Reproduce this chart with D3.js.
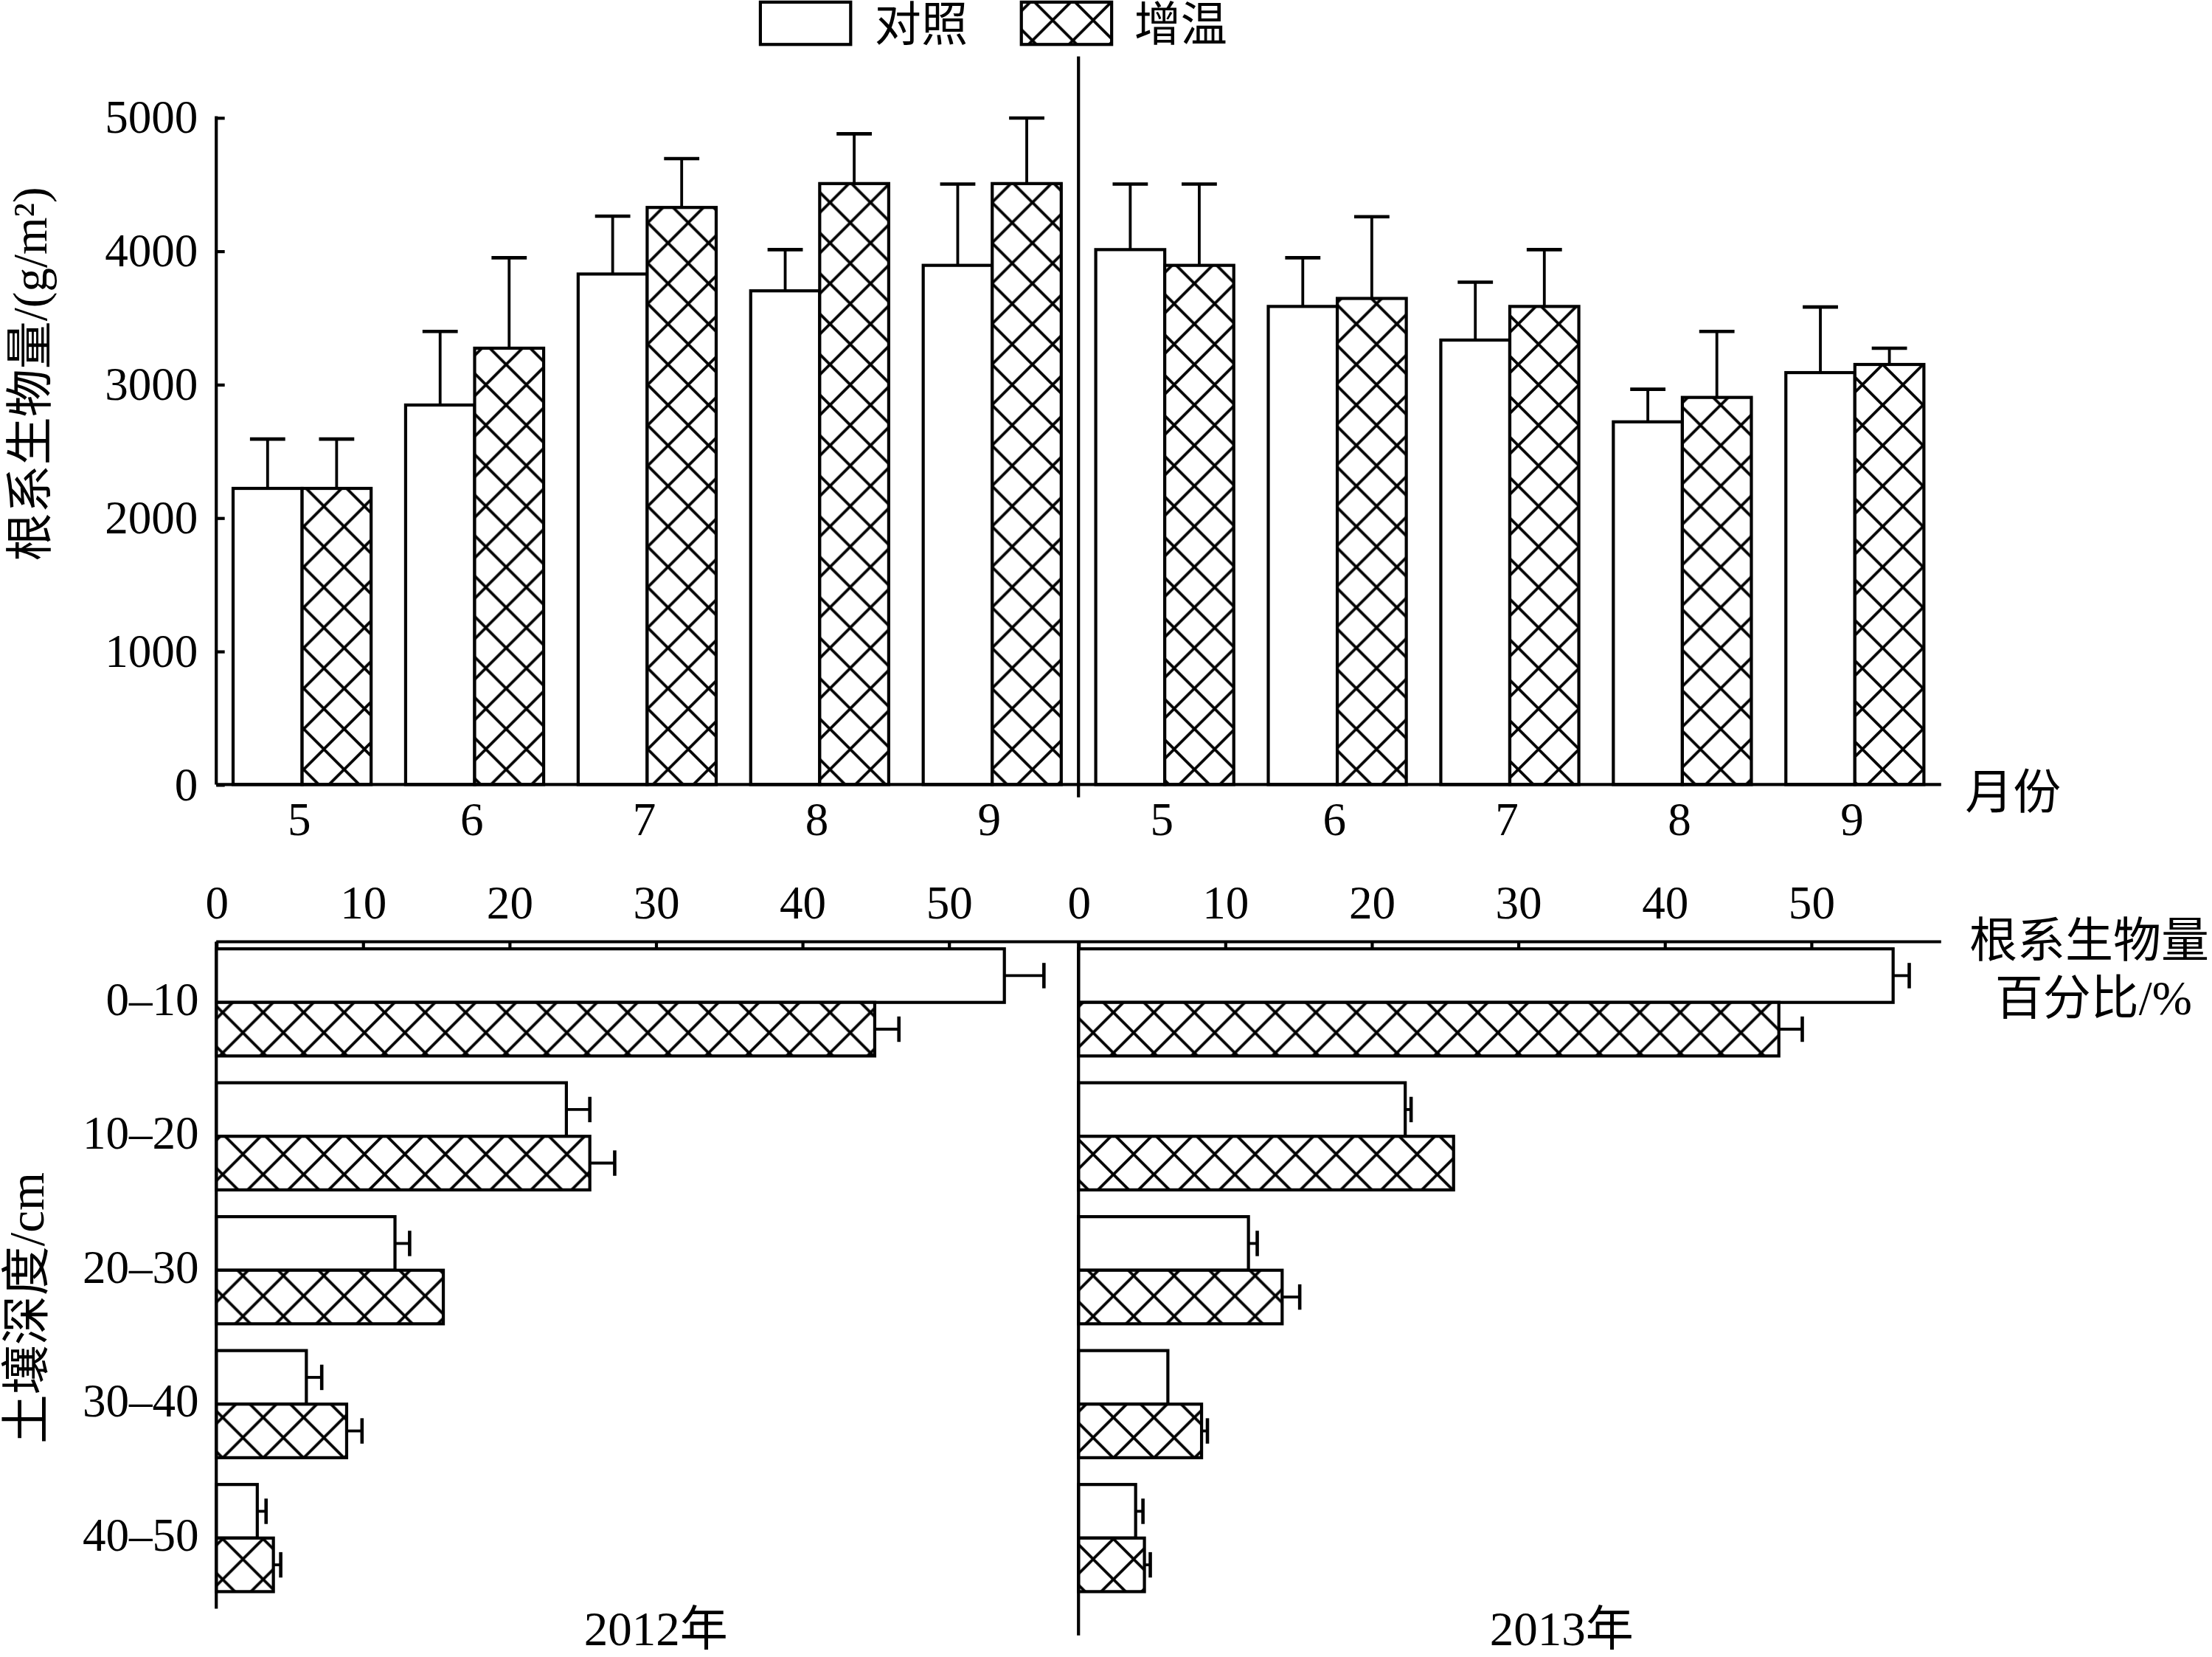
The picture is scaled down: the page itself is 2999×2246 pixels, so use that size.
<!DOCTYPE html>
<html>
<head>
<meta charset="utf-8">
<script src="https://cdnjs.cloudflare.com/ajax/libs/d3/7.8.5/d3.min.js"></script>
<style>
  html, body { margin: 0; padding: 0; background: #fff; }
  svg { display: block; }
  text { font-family: "Liberation Serif", "Noto Sans CJK SC", serif; fill: #000; }
</style>
</head>
<body>
<svg id="chart" width="2999" height="2246" viewBox="0 0 1568 1174.3"></svg>
<script>
// ---- data ----
var months = ["5", "6", "7", "8", "9"];
var years = ["2012", "2013"];
var seriesNames = ["对照", "增温"];

// root biomass g/m2 and error (upper bar length)
var ctrl2012 = [2220, 2845, 3827, 3701, 3892];
var ctrlErr2012 = [370, 552, 434, 309, 609];
var warm2012 = [2220, 3271, 4326, 4505, 4505];
var warmErr2012 = [370, 678, 366, 373, 491];
var ctrl2013 = [4010, 3584, 3332, 2719, 3088];
var ctrlErr2013 = [491, 365, 434, 244, 492];
var warm2013 = [3892, 3644, 3584, 2902, 3149];
var warmErr2013 = [609, 613, 426, 495, 122];
var biomassTicks = [0, 1000, 2000, 3000, 4000, 5000];

// percentage of root biomass per soil layer
var depths = ["0–10", "10–20", "20–30", "30–40", "40–50"];
var ctrlPct2012 = [53.8, 23.9, 12.2, 6.15, 2.8];
var ctrlPctErr2012 = [2.7, 1.6, 1.0, 1.05, 0.6];
var warmPct2012 = [44.95, 25.5, 15.5, 8.9, 3.9];
var warmPctErr2012 = [1.65, 1.7, 0, 1.05, 0.5];
var ctrlPct2013 = [55.6, 22.3, 11.6, 6.1, 3.9];
var ctrlPctErr2013 = [1.1, 0.4, 0.6, 0, 0.5];
var warmPct2013 = [47.8, 25.6, 13.9, 8.4, 4.5];
var warmPctErr2013 = [1.6, 0, 1.2, 0.4, 0.4];
var pctTicks = [0, 10, 20, 30, 40, 50];

var svg = d3.select("#chart");
var lw = 2.2;

// cross hatch pattern
var defs = svg.append("defs");
var pat = defs.append("pattern")
    .attr("id", "hatch")
    .attr("patternUnits", "userSpaceOnUse")
    .attr("width", 28.7)
    .attr("height", 28.7);
pat.append("rect").attr("width", 28.7).attr("height", 28.7).attr("fill", "#fff");
pat.append("path")
    .attr("d", "M0,14.35L14.35,0L28.7,14.35L14.35,28.7Z")
    .attr("fill", "none")
    .attr("stroke", "#000")
    .attr("stroke-width", 2)
    .attr("stroke-linecap", "square");

function fillFor(i) { return i === 0 ? "#fff" : "url(#hatch)"; }

// ================= top chart =================
var topBase = 556, topY0 = 83.3;
var y = d3.scaleLinear().domain([0, 5000]).range([topBase, topY0]);

var groups = [];
years.forEach(function(yr) {
    months.forEach(function(m) { groups.push(yr + "-" + m); });
});
var x0 = d3.scaleBand().domain(groups).range([153, 1376]).paddingInner(0.2).paddingOuter(0.1);
var x1 = d3.scaleBand().domain([0, 1]).range([0, x0.bandwidth()]);

var topRows = [];
var ctrlTop = ctrl2012.concat(ctrl2013), ctrlTopErr = ctrlErr2012.concat(ctrlErr2013);
var warmTop = warm2012.concat(warm2013), warmTopErr = warmErr2012.concat(warmErr2013);
groups.forEach(function(g, i) {
    topRows.push({g: g, s: 0, v: ctrlTop[i], e: ctrlTopErr[i]});
    topRows.push({g: g, s: 1, v: warmTop[i], e: warmTopErr[i]});
});

var topBars = svg.append("g");
topBars.selectAll("line.err")
    .data(topRows).enter().append("line")
    .attr("x1", function(d) { return x0(d.g) + x1(d.s) + x1.bandwidth() / 2; })
    .attr("x2", function(d) { return x0(d.g) + x1(d.s) + x1.bandwidth() / 2; })
    .attr("y1", function(d) { return y(d.v); })
    .attr("y2", function(d) { return y(d.v + d.e); })
    .attr("stroke", "#000").attr("stroke-width", 2);
topBars.selectAll("line.cap")
    .data(topRows).enter().append("line")
    .attr("x1", function(d) { return x0(d.g) + x1(d.s) + x1.bandwidth() / 2 - 12.5; })
    .attr("x2", function(d) { return x0(d.g) + x1(d.s) + x1.bandwidth() / 2 + 12.5; })
    .attr("y1", function(d) { return y(d.v + d.e); })
    .attr("y2", function(d) { return y(d.v + d.e); })
    .attr("stroke", "#000").attr("stroke-width", 2.4);
topBars.selectAll("rect")
    .data(topRows).enter().append("rect")
    .attr("x", function(d) { return x0(d.g) + x1(d.s); })
    .attr("y", function(d) { return y(d.v); })
    .attr("width", x1.bandwidth())
    .attr("height", function(d) { return topBase - y(d.v); })
    .attr("fill", function(d) { return fillFor(d.s); })
    .attr("stroke", "#000").attr("stroke-width", lw);

// y axis
var yAxis = svg.append("g")
    .attr("transform", "translate(153.3,0)")
    .call(d3.axisLeft(y).tickValues(biomassTicks).tickFormat(d3.format("d")).tickSize(-6).tickPadding(13));
yAxis.select(".domain").remove();
yAxis.selectAll(".tick line").attr("stroke-width", lw);
yAxis.selectAll("text").attr("font-size", 33).attr("font-family", "Liberation Serif");

svg.append("line").attr("x1", 153.3).attr("x2", 153.3).attr("y1", topY0 - 1).attr("y2", topBase)
    .attr("stroke", "#000").attr("stroke-width", lw);
svg.append("line").attr("x1", 153.3).attr("x2", 1376).attr("y1", topBase).attr("y2", topBase)
    .attr("stroke", "#000").attr("stroke-width", lw);

// month labels
svg.append("g").selectAll("text")
    .data(groups).enter().append("text")
    .attr("x", function(d) { return x0(d) + x0.bandwidth() / 2 - 2; })
    .attr("y", 592)
    .attr("text-anchor", "middle")
    .attr("font-size", 33)
    .text(function(d) { return d.split("-")[1]; });

svg.append("text").attr("x", 1393).attr("y", 573).attr("font-size", 34).text("月份");

// divider between years
var divX = (x0("2012-9") + x0.bandwidth() + x0("2013-5")) / 2;
svg.append("line").attr("x1", divX).attr("x2", divX).attr("y1", 40).attr("y2", 565)
    .attr("stroke", "#000").attr("stroke-width", lw);

svg.append("text")
    .attr("transform", "translate(33,265) rotate(-90)")
    .attr("text-anchor", "middle")
    .attr("font-size", 34)
    .text("根系生物量/(g/m²)");

// legend
var legend = svg.append("g");
legend.append("rect").attr("x", 539).attr("y", 1.5).attr("width", 64).attr("height", 30)
    .attr("fill", "#fff").attr("stroke", "#000").attr("stroke-width", lw);
legend.append("text").attr("x", 620).attr("y", 29).attr("font-size", 33).text(seriesNames[0]);
legend.append("rect").attr("x", 724).attr("y", 1.5).attr("width", 64).attr("height", 30)
    .attr("fill", "url(#hatch)").attr("stroke", "#000").attr("stroke-width", lw);
legend.append("text").attr("x", 804).attr("y", 29).attr("font-size", 33).text(seriesNames[1]);

// ================= bottom chart =================
var axisY = 667.4;
var yd = d3.scaleBand().domain(depths).range([axisY, 1133]).paddingInner(0.2).paddingOuter(0.053);
var yd1 = d3.scaleBand().domain([0, 1]).range([0, yd.bandwidth()]);
var xl = d3.scaleLinear().domain([0, 50]).range([153.3, 672.5]);
var xr = d3.scaleLinear().domain([0, 50]).range([764.5, 1283.8]);

function pctRows(c, ce, w, we) {
    var rows = [];
    depths.forEach(function(dp, i) {
        rows.push({d: dp, s: 0, v: c[i], e: ce[i]});
        rows.push({d: dp, s: 1, v: w[i], e: we[i]});
    });
    return rows;
}

function drawPanel(xs, rows, label, labelX) {
    var g = svg.append("g");
    var withErr = rows.filter(function(d) { return d.e > 0; });
    g.selectAll("line.err")
        .data(withErr).enter().append("line")
        .attr("x1", function(d) { return xs(d.v); })
        .attr("x2", function(d) { return xs(d.v + d.e); })
        .attr("y1", function(d) { return yd(d.d) + yd1(d.s) + yd1.bandwidth() / 2; })
        .attr("y2", function(d) { return yd(d.d) + yd1(d.s) + yd1.bandwidth() / 2; })
        .attr("stroke", "#000").attr("stroke-width", 2);
    g.selectAll("line.cap")
        .data(withErr).enter().append("line")
        .attr("x1", function(d) { return xs(d.v + d.e); })
        .attr("x2", function(d) { return xs(d.v + d.e); })
        .attr("y1", function(d) { return yd(d.d) + yd1(d.s) + yd1.bandwidth() / 2 - 9; })
        .attr("y2", function(d) { return yd(d.d) + yd1(d.s) + yd1.bandwidth() / 2 + 9; })
        .attr("stroke", "#000").attr("stroke-width", 2.4);
    g.selectAll("rect")
        .data(rows).enter().append("rect")
        .attr("x", xs(0))
        .attr("y", function(d) { return yd(d.d) + yd1(d.s); })
        .attr("width", function(d) { return xs(d.v) - xs(0); })
        .attr("height", yd1.bandwidth())
        .attr("fill", function(d) { return fillFor(d.s); })
        .attr("stroke", "#000").attr("stroke-width", lw);

    var ax = svg.append("g")
        .attr("transform", "translate(0," + axisY + ")")
        .call(d3.axisTop(xs).tickValues(pctTicks).tickSize(-5.5).tickPadding(16.5));
    ax.select(".domain").remove();
    ax.selectAll(".tick line").attr("stroke-width", lw);
    ax.selectAll("text").attr("font-size", 33).attr("font-family", "Liberation Serif");

    svg.append("text").attr("x", labelX).attr("y", 1166)
        .attr("text-anchor", "middle").attr("font-size", 34).text(label);
}

drawPanel(xl, pctRows(ctrlPct2012, ctrlPctErr2012, warmPct2012, warmPctErr2012), years[0] + "年", 465);
drawPanel(xr, pctRows(ctrlPct2013, ctrlPctErr2013, warmPct2013, warmPctErr2013), years[1] + "年", 1107);

// bottom axis lines
svg.append("line").attr("x1", 153.3).attr("x2", 1376).attr("y1", axisY).attr("y2", axisY)
    .attr("stroke", "#000").attr("stroke-width", lw);
svg.append("line").attr("x1", 153.3).attr("x2", 153.3).attr("y1", axisY).attr("y2", 1140)
    .attr("stroke", "#000").attr("stroke-width", lw);
svg.append("line").attr("x1", 764.5).attr("x2", 764.5).attr("y1", axisY).attr("y2", 1159)
    .attr("stroke", "#000").attr("stroke-width", lw);

// depth labels
svg.append("g").selectAll("text")
    .data(depths).enter().append("text")
    .attr("x", 141)
    .attr("y", function(d) { return yd(d) + yd.bandwidth() / 2 + 9; })
    .attr("text-anchor", "end")
    .attr("font-size", 33)
    .text(function(d) { return d; });

svg.append("text").attr("x", 1481).attr("y", 678).attr("text-anchor", "middle")
    .attr("font-size", 34).text("根系生物量");
svg.append("text").attr("x", 1484).attr("y", 719).attr("text-anchor", "middle")
    .attr("font-size", 34).text("百分比/%");

svg.append("text")
    .attr("transform", "translate(31,927) rotate(-90)")
    .attr("text-anchor", "middle")
    .attr("font-size", 35)
    .text("土壤深度/cm");
</script>
</body>
</html>
